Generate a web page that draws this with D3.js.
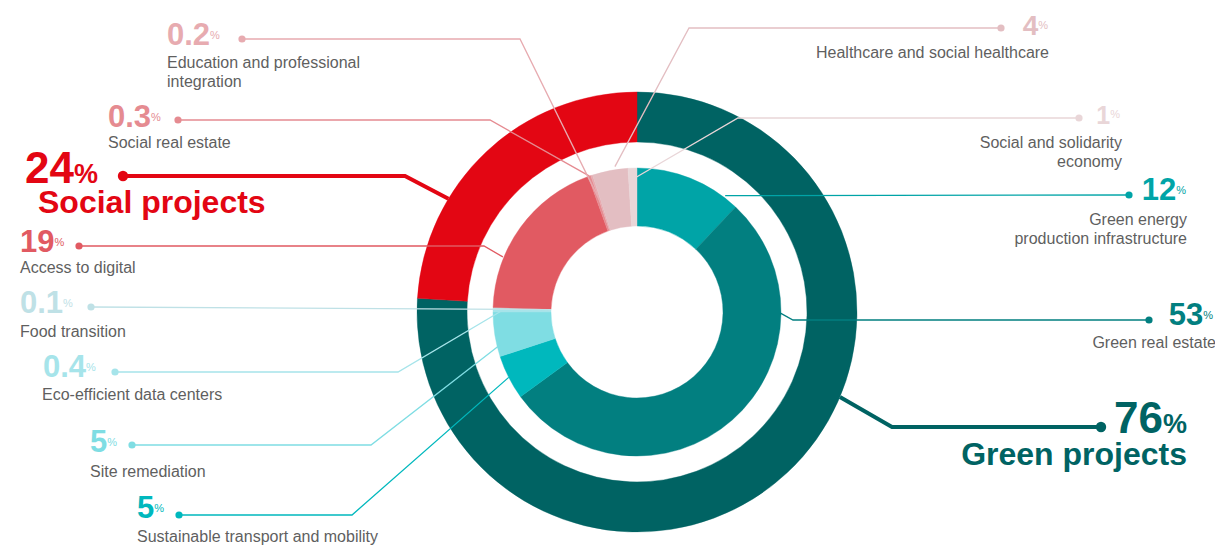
<!DOCTYPE html>
<html>
<head>
<meta charset="utf-8">
<style>
  body { margin: 0; background: #fff; }
  svg { display: block; font-family: "Liberation Sans", Arial, Helvetica, sans-serif; }
  .label { fill: #5f5f5f; font-size: 16px; }
  .value { font-weight: bold; }
</style>
</head>
<body>
<svg width="1215" height="546"></svg>
<script src="https://cdn.jsdelivr.net/npm/d3@7/dist/d3.min.js"></script>
<script>
// outer ring: the two families of projects (%)
var groupNames = ["Green projects", "Social projects"];
var groupShares = [76, 24];

// inner ring: categories, clockwise from 12 o'clock (%)
var categoryNames = [
  "Green energy production infrastructure",
  "Green real estate",
  "Sustainable transport and mobility",
  "Site remediation",
  "Eco-efficient data centers",
  "Food transition",
  "Access to digital",
  "Social real estate",
  "Education and professional integration",
  "Healthcare and social healthcare",
  "Social and solidarity economy"
];
var categoryShares = [12, 53, 5, 5, 0.4, 0.1, 19, 0.3, 0.2, 4, 1];

var groupColors = ["#006363", "#e30613"];
var categoryColors = ["#00a4a7", "#027f80", "#00b8bd", "#7fdde3", "#a6e4ea", "#bfe1e6",
                      "#e15a62", "#e58b91", "#e7abb0", "#e3bec2", "#e9d6d8"];

var svg = d3.select("svg"),
    cx = 637, cy = 312,
    g = svg.append("g").attr("transform", "translate(" + cx + "," + cy + ")");

// callout layout: number position, dot, elbow and where the leader meets the ring
// t = position inside the slice (0..1), r = radius of the end point
var groupCallouts = [
  {anchor: "end", x: 1187, y: 433, dot: [1101, 427], elbow: [892, 427], t: 0.412, r: 220, nameX: 1187, nameY: 465},
  {anchor: "start", x: 25, y: 183, dot: [123, 176], elbow: [405, 176], t: 0.317, r: 220, nameX: 38, nameY: 213}
];
var categoryCallouts = [
  {anchor: "end", x: 1186, y: 200, size: 31, dot: [1129, 195], elbow: null, t: 0.86, r: 146, tx: 1187, ty: 225, brk: 2},
  {anchor: "end", x: 1213, y: 325, size: 31, dot: [1149, 320], elbow: [793, 320], t: 0.247, r: 143, tx: 1216, ty: 348},
  {anchor: "start", x: 137, y: 518, size: 31, dot: [179, 515], elbow: [352, 515], t: 0.5, r: 144, tx: 137, ty: 542},
  {anchor: "start", x: 90, y: 452, size: 31, dot: [132, 445], elbow: [371, 445], t: 0.25, r: 141, tx: 90, ty: 477},
  {anchor: "start", x: 43, y: 377, size: 31, dot: [115, 372], elbow: [398, 372], t: 0.6, r: 134, tx: 42, ty: 400},
  {anchor: "start", x: 20, y: 313, size: 31, dot: [91, 307], elbow: null, t: 0.5, r: 86, tx: 20, ty: 337},
  {anchor: "start", x: 20, y: 252, size: 31, dot: [79, 246], elbow: [484, 246], t: 0.3, r: 145, tx: 20, ty: 273},
  {anchor: "start", x: 108, y: 127, size: 31, dot: [178, 120], elbow: [490, 120], t: 0.5, r: 144, tx: 108, ty: 148},
  {anchor: "start", x: 167, y: 45, size: 31, dot: [242, 39], elbow: [520, 39], t: 0.5, r: 115, tx: 167, ty: 68, brk: 3},
  {anchor: "end", x: 1048, y: 35, size: 28, dot: [1001, 28], elbow: [689, 28], t: 0.65, r: 147, tx: 1049, ty: 58},
  {anchor: "end", x: 1120, y: 124, size: 25, dot: [1079, 118], elbow: [738, 118], t: 0.95, r: 135, tx: 1122, ty: 148, brk: 3}
];

var pie = d3.pie().sort(null).value(function(d) { return d; });
var groupArcs = pie(groupShares),
    categoryArcs = pie(categoryShares);

var outerArc = d3.arc().innerRadius(170).outerRadius(220),
    innerArc = d3.arc().innerRadius(86).outerRadius(144);

g.selectAll(".group")
  .data(groupArcs)
  .enter().append("path")
    .attr("class", "group")
    .attr("d", outerArc)
    .attr("fill", function(d, i) { return groupColors[i]; })
    .attr("stroke", function(d, i) { return groupColors[i]; })
    .attr("stroke-width", 0.4);

g.selectAll(".category")
  .data(categoryArcs)
  .enter().append("path")
    .attr("class", "category")
    .attr("d", innerArc)
    .attr("fill", function(d, i) { return categoryColors[i]; })
    .attr("stroke", function(d, i) { return categoryColors[i]; })
    .attr("stroke-width", 0.4);

// point on the ring, in page coordinates
function ringPoint(a, c) {
  var ang = a.startAngle + c.t * (a.endAngle - a.startAngle);
  return [cx + c.r * Math.sin(ang), cy - c.r * Math.cos(ang)];
}

function leader(a, c) {
  var pts = [c.dot];
  if (c.elbow) pts.push(c.elbow);
  pts.push(ringPoint(a, c));
  return d3.line()(pts);
}

var callouts = svg.append("g");

function drawLeader(arcs, layout, colors, width, dotR) {
  arcs.forEach(function(a, i) {
    var c = layout[i];
    callouts.append("path")
      .attr("d", leader(a, c))
      .attr("fill", "none")
      .attr("stroke", colors[i])
      .attr("stroke-width", width)
      .attr("stroke-linejoin", "miter");
    callouts.append("circle")
      .attr("cx", c.dot[0]).attr("cy", c.dot[1])
      .attr("r", dotR)
      .attr("fill", colors[i]);
  });
}

drawLeader(categoryArcs, categoryCallouts, categoryColors, 1.3, 3.6);
drawLeader(groupArcs, groupCallouts, groupColors, 4, 5.2);

// category numbers and names
categoryArcs.forEach(function(a, i) {
  var c = categoryCallouts[i];
  var num = callouts.append("text")
      .attr("class", "value")
      .attr("x", c.x).attr("y", c.y)
      .attr("text-anchor", c.anchor)
      .attr("fill", categoryColors[i]);
  num.append("tspan").attr("font-size", c.size).text(String(a.data));
  num.append("tspan").attr("font-size", 11).attr("font-weight", "normal").attr("dy", -6).text("%");

  var words = categoryNames[i].split(" "),
      lines = c.brk ? [words.slice(0, c.brk).join(" "), words.slice(c.brk).join(" ")] : [categoryNames[i]];
  lines.forEach(function(l, j) {
    callouts.append("text")
      .attr("class", "label")
      .attr("x", c.tx).attr("y", c.ty + j * 19)
      .attr("text-anchor", c.anchor)
      .text(l);
  });
});

// group totals
groupArcs.forEach(function(a, i) {
  var c = groupCallouts[i];
  var num = callouts.append("text")
      .attr("class", "value")
      .attr("x", c.x).attr("y", c.y)
      .attr("text-anchor", c.anchor)
      .attr("fill", groupColors[i]);
  num.append("tspan").attr("font-size", 44).text(String(a.data));
  num.append("tspan").attr("font-size", 27).text("%");
  callouts.append("text")
    .attr("class", "value")
    .attr("x", c.nameX).attr("y", c.nameY)
    .attr("text-anchor", c.anchor)
    .attr("font-size", 32)
    .attr("fill", groupColors[i])
    .text(groupNames[i]);
});
</script>
</body>
</html>
